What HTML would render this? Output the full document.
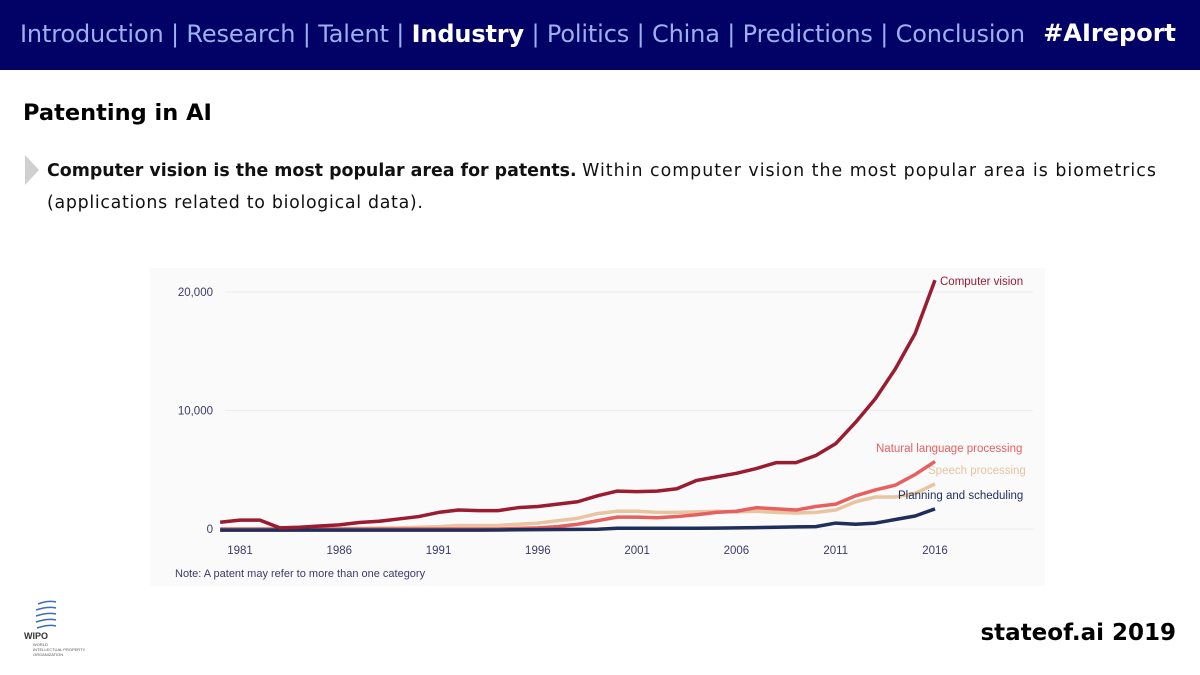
<!DOCTYPE html>
<html><head><meta charset="utf-8"><style>
body{margin:0;width:1200px;height:675px;background:#fff;font-family:"DejaVu Sans","Liberation Sans",sans-serif;overflow:hidden;position:relative}
#hdr{position:absolute;left:0;top:0;width:1200px;height:70px;background:#020266}
#nav{position:absolute;left:20px;top:20px;font-size:24px;color:#9db0ee;white-space:nowrap;letter-spacing:-0.15px}
#nav b{color:#fff}
#tag{position:absolute;right:24px;top:19px;font-size:24px;color:#fff;font-weight:bold}
#title{position:absolute;left:23px;top:100px;font-size:22.5px;font-weight:bold;color:#000}
#tri{position:absolute;left:25px;top:155px;width:0;height:0;border-top:15px solid transparent;border-bottom:15px solid transparent;border-left:14px solid #d0d0d0}
#txt{position:absolute;left:47px;top:155px;font-size:17.4px;line-height:32px;color:#111;width:1150px}
#txt span{letter-spacing:1.0px}
#chartbg{position:absolute;left:150px;top:268px;width:895px;height:318px;background:#fafafa}
#foot{position:absolute;right:24px;top:620px;font-size:23px;font-weight:bold;color:#000}
svg{position:absolute;left:0;top:0}
</style></head><body>
<div id="hdr">
<div id="nav">Introduction | Research | Talent | <b>Industry</b> | Politics | China | Predictions | Conclusion</div>
<div id="tag">#AIreport</div>
</div>
<div id="title">Patenting in AI</div>
<div id="tri"></div>
<div id="txt"><b>Computer vision is the most popular area for patents.</b> <span>Within computer vision the most popular area is biometrics</span><br><span style="letter-spacing:0.7px">(applications related to biological data).</span></div>
<div id="chartbg"></div>
<svg id="chart" width="1200" height="675"></svg>
<div style="position:absolute;left:24px;top:596px;width:84px;height:60px">
<svg width="84" height="60"><g stroke="#3b6fb0" stroke-width="1.5" fill="none"><path d="M14 8 q10 -4 18 -2"/><path d="M12 14 q12 -4 20 -2"/><path d="M12 20 q12 -4 20 -2"/><path d="M12 26 q12 -4 20 -2"/><path d="M13 32 q12 -4 19 -2"/></g>
<text x="0" y="43" font-size="9" font-weight="bold" fill="#333" font-family="Liberation Sans">WIPO</text>
<text x="9" y="50" font-size="4" fill="#555" font-family="Liberation Sans">WORLD</text>
<text x="9" y="55" font-size="4" fill="#555" font-family="Liberation Sans">INTELLECTUAL PROPERTY</text>
<text x="9" y="60" font-size="4" fill="#555" font-family="Liberation Sans">ORGANIZATION</text></svg></div>
<div id="foot">stateof.ai 2019</div>
<script>
const years=[1980,1981,1982,1983,1984,1985,1986,1987,1988,1989,1990,1991,1992,1993,1994,1995,1996,1997,1998,1999,2000,2001,2002,2003,2004,2005,2006,2007,2008,2009,2010,2011,2012,2013,2014,2015,2016];
const cv=[570,750,750,100,150,250,350,550,650,850,1050,1400,1600,1550,1550,1800,1900,2100,2300,2800,3200,3150,3200,3400,4100,4400,4700,5100,5600,5600,6200,7200,9000,11000,13500,16500,21000];
const nlp=[0,0,0,0,0,0,0,0,0,0,0,0,0,0,0,50,100,200,400,700,1000,1000,950,1050,1200,1400,1500,1800,1700,1600,1900,2100,2800,3300,3700,4600,5700];
const speech=[-100,-100,-100,-100,-50,0,0,50,80,100,150,200,300,300,300,400,500,700,900,1300,1500,1500,1400,1400,1450,1500,1450,1500,1400,1350,1400,1600,2300,2700,2700,3000,3800];
const plan=[-100,-100,-100,-100,-100,-100,-100,-100,-100,-100,-100,-100,-100,-100,-80,-60,-50,-40,-30,-20,60,60,60,60,60,70,100,120,150,180,200,500,400,500,800,1100,1700];
const yTicks=[0,10000,20000];
const yTickLabels=["0","10,000","20,000"];
const xTicks=[1981,1986,1991,1996,2001,2006,2011,2016];
const X=y=>240+(y-1981)*19.857;
const Y=v=>529-v*0.01185;
const svg=document.getElementById('chart');
const NS='http://www.w3.org/2000/svg';
function mk(t,a){const e=document.createElementNS(NS,t);for(const k in a)e.setAttribute(k,a[k]);svg.appendChild(e);return e;}
yTicks.forEach((v,i)=>{
 const g=mk('line',{x1:225,x2:1033,y1:Y(v),y2:Y(v),stroke:'#ececec','stroke-width':1});
 
 
 const t=mk('text',{x:213,y:Y(v)+4,'text-anchor':'end','font-size':11.5,fill:'#3c3a6a','font-family':'Liberation Sans'});
 t.textContent=yTickLabels[i];
 
 
});
xTicks.forEach(yr=>{
 const t=mk('text',{x:X(yr),y:554,'text-anchor':'middle','font-size':11.5,fill:'#3c3a6a','font-family':'Liberation Sans'});
 t.textContent=yr;
 
 
});
const series=[[speech,'#e8c4a0','Speech processing',928,474],[nlp,'#e66060','Natural language processing',876,452],[plan,'#1f2e5a','Planning and scheduling',898,499],[cv,'#9b1b30','Computer vision',940,285]];
series.forEach(([d,c,name,lx,ly])=>{
 const p=mk('polyline',{points:d.map((v,i)=>X(years[i])+','+Y(v)).join(' '),fill:'none',stroke:c,'stroke-width':3.5,'stroke-linejoin':'round'});
 
 
 const t=mk('text',{x:lx,y:ly,'font-size':11.5,fill:c,'font-family':'Liberation Sans'});
 t.textContent=name;
 
 
});
const n=mk('text',{x:175,y:577,'font-size':11,fill:'#3c3a6a','font-family':'Liberation Sans'});
n.textContent='Note: A patent may refer to more than one category';


</script>
</body></html>
